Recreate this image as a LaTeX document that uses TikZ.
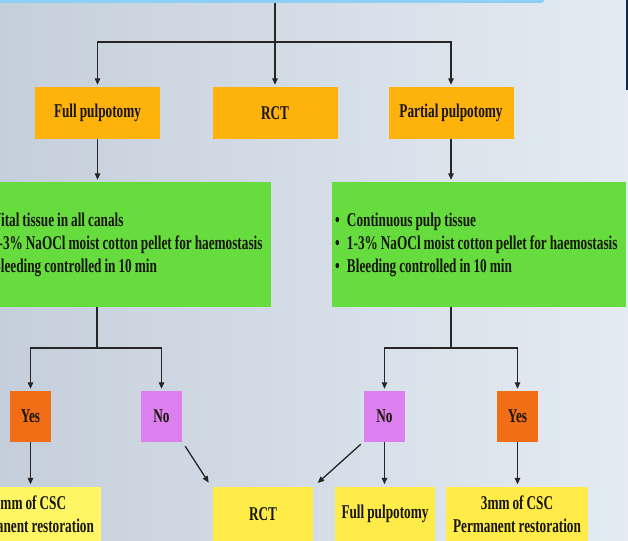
\documentclass[tikz,border=0pt]{standalone}
\usepackage{fontspec}
\newfontfamily\tf{Liberation Serif}[FakeStretch=0.68, WordSpace=0.9]
\usetikzlibrary{arrows.meta}
\definecolor{bgL}{RGB}{197,207,219}
\definecolor{bgR}{RGB}{228,235,242}
\definecolor{topblue}{RGB}{140,208,248}
\definecolor{amber}{RGB}{253,178,12}
\definecolor{lgreen}{RGB}{102,220,62}
\definecolor{yesor}{RGB}{241,110,22}
\definecolor{novio}{RGB}{220,128,240}
\definecolor{yel}{RGB}{255,236,72}
\definecolor{yellight}{RGB}{255,246,100}
\definecolor{txt}{RGB}{24,22,10}
\definecolor{ln}{RGB}{38,38,38}
\definecolor{navy}{RGB}{28,38,70}
\tikzset{
  box/.style={draw=none, inner sep=0pt, font=\tf\bfseries\fontsize{19.5}{23}\selectfont, text=txt, align=center},
  obox/.style={box, fill=amber, minimum width=125pt, minimum height=52pt},
  gbox/.style={draw=none, fill=lgreen, inner sep=0pt, minimum width=294pt, minimum height=125pt, font=\tf\bfseries\fontsize{19.5}{23}\selectfont, text=txt},
  ybox/.style={box, fill=yesor, minimum width=41pt, minimum height=51pt},
  nbox/.style={box, fill=novio, minimum width=41pt, minimum height=51pt},
  lbox/.style={box, fill=yel, minimum width=100pt, minimum height=55pt},
  arr/.style={draw=ln, line width=1.3pt, -{Triangle[length=6.5pt,width=5.5pt]}, shorten >=2pt},
  ln/.style={draw=ln, line width=1.3pt}
}
\newcommand{\bl}{\makebox[12pt][l]{\textbullet}}
\newcommand{\glines}[3]{\hbox to 288pt{\vbox{\hbox{\bl #1}\hbox{\bl #2}\hbox{\bl #3}}\hss}}
\begin{document}
\begin{tikzpicture}[x=1pt,y=-1pt]
\useasboundingbox (0,0) rectangle (628,540);
\clip (0,0) rectangle (628,540);
\shade[left color=bgL, right color=bgR] (0,0) rectangle (628,540);
\fill[navy] (625.5,0) rectangle (628,90);
% top bar
\node[box, fill=topblue, minimum width=555pt, minimum height=22pt, rounded corners=4pt] (top) at (267.5,-8) {};
% level 1
\node[obox] (fp) at (97.5,113) {Full pulpotomy};
\node[obox] (rct1) at (275,113) {RCT};
\node[obox] (pp) at (451,113) {Partial pulpotomy};
\draw[arr] (rct1.north |- top.south) -- (rct1.north);
\coordinate (j1) at (275,42);
\draw[arr] (j1) -| (fp.north);
\draw[arr] (j1) -| (pp.north);
% green boxes
\node[gbox] (gl) at (124,244.5) {\glines{Vital tissue in all canals}{1-3\% NaOCl moist cotton pellet for haemostasis}{Bleeding controlled in 10 min}};
\node[gbox] (gr) at (479,244.5) {\glines{Continuous pulp tissue}{1-3\% NaOCl moist cotton pellet for haemostasis}{Bleeding controlled in 10 min}};
\draw[arr] (fp.south) -- (fp.south |- gl.north);
\draw[arr] (pp.south) -- (pp.south |- gr.north);
% left branch
\node[ybox] (yl) at (30.5,416.5) {Yes};
\node[nbox] (nl) at (161.5,416.5) {No};
\coordinate (j2) at (97,348);
\draw[ln] (gl.south -| j2) -- (j2);
\draw[arr] (j2) -| (yl.north);
\draw[arr] (j2) -| (nl.north);
% right branch
\node[nbox] (nr) at (384.5,416.5) {No};
\node[ybox] (yr) at (517.5,416.5) {Yes};
\coordinate (j3) at (451,348);
\draw[ln] (gr.south -| j3) -- (j3);
\draw[arr] (j3) -| (nr.north);
\draw[arr] (j3) -| (yr.north);
% bottom row
\node[lbox, fill=yellight, minimum width=142pt] (bll) at (30,514) {3mm of CSC\\Permanent restoration};
\node[lbox] (rb) at (263,514) {RCT};
\node[lbox] (fpb) at (385,514) {Full pulpotomy};
\node[lbox, minimum width=142pt] (brr) at (517,514) {3mm of CSC\\Permanent restoration};
\draw[arr] (yl.south) -- (yl.south |- bll.north);
\draw[arr] (nr.south) -- (nr.south |- fpb.north);
\draw[arr] (yr.south) -- (yr.south |- brr.north);
\draw[arr] ([shift={(3,4)}]nl.south east) -- ([shift={(-3,-2)}]rb.north west);
\draw[arr] ([shift={(-3,2)}]nr.south west) -- ([shift={(3,-2)}]rb.north east);
\end{tikzpicture}
\end{document}
